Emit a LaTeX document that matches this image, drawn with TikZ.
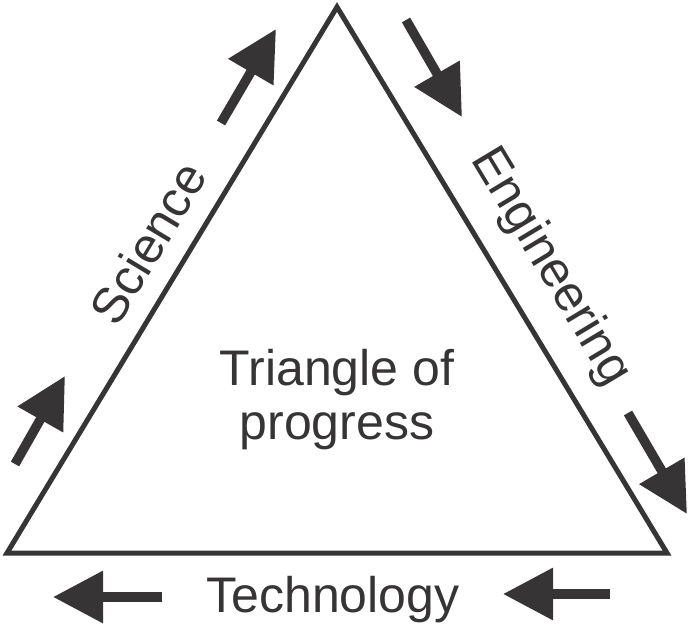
\documentclass[tikz,border=0pt]{standalone}
\usepackage{fontspec}
\setmainfont{Liberation Sans}
\usepackage{tikz}
\usetikzlibrary{arrows.meta,positioning,calc}
\definecolor{ink}{RGB}{54,52,53}
\tikzset{
  tri/.style  = {draw=ink, line width=5pt, line join=miter},
  arr/.style  = {draw=ink, line width=9.5pt,
                 -{Triangle[length=50pt,width=50pt]}},
  lbl/.style  = {text=ink, inner sep=0pt,
                 font=\fontsize{50}{54}\selectfont},
}
\begin{document}
\begin{tikzpicture}[x=1pt,y=-1pt]
  \useasboundingbox (0,0) rectangle (688,624);
  % triangle
  \coordinate (top) at (337,7);
  \coordinate (bl) at (7,553);
  \coordinate (br) at (667,553);
  \draw[tri] (top) -- (bl) -- (br) -- cycle;
  % arrows
  \coordinate (s1a) at (221,123);  \coordinate (s1b) at (276,29);
  \coordinate (s2a) at (15,464);   \coordinate (s2b) at (65,376);
  \coordinate (e1a) at (406,20);   \coordinate (e1b) at (462,117);
  \coordinate (e2a) at (628,413);  \coordinate (e2b) at (687,514);
  \coordinate (t1a) at (610,594);  \coordinate (t1b) at (503,594);
  \coordinate (t2a) at (162,597);  \coordinate (t2b) at (53,597);
  \foreach \p in {s1,s2,e1,e2,t1,t2} \draw[arr] (\p a) -- (\p b);
  % labels
  \node[lbl, align=center] (tri) at (337,400) {Triangle of\\progress};
  \node[lbl, rotate=59] (sci) at (148,243) {Science};
  \node[lbl, rotate=-59] (eng) at (550,267) {Engineering};
  \node[lbl, anchor=base] (tech) at (333,612) {Technology};
\end{tikzpicture}
\end{document}
